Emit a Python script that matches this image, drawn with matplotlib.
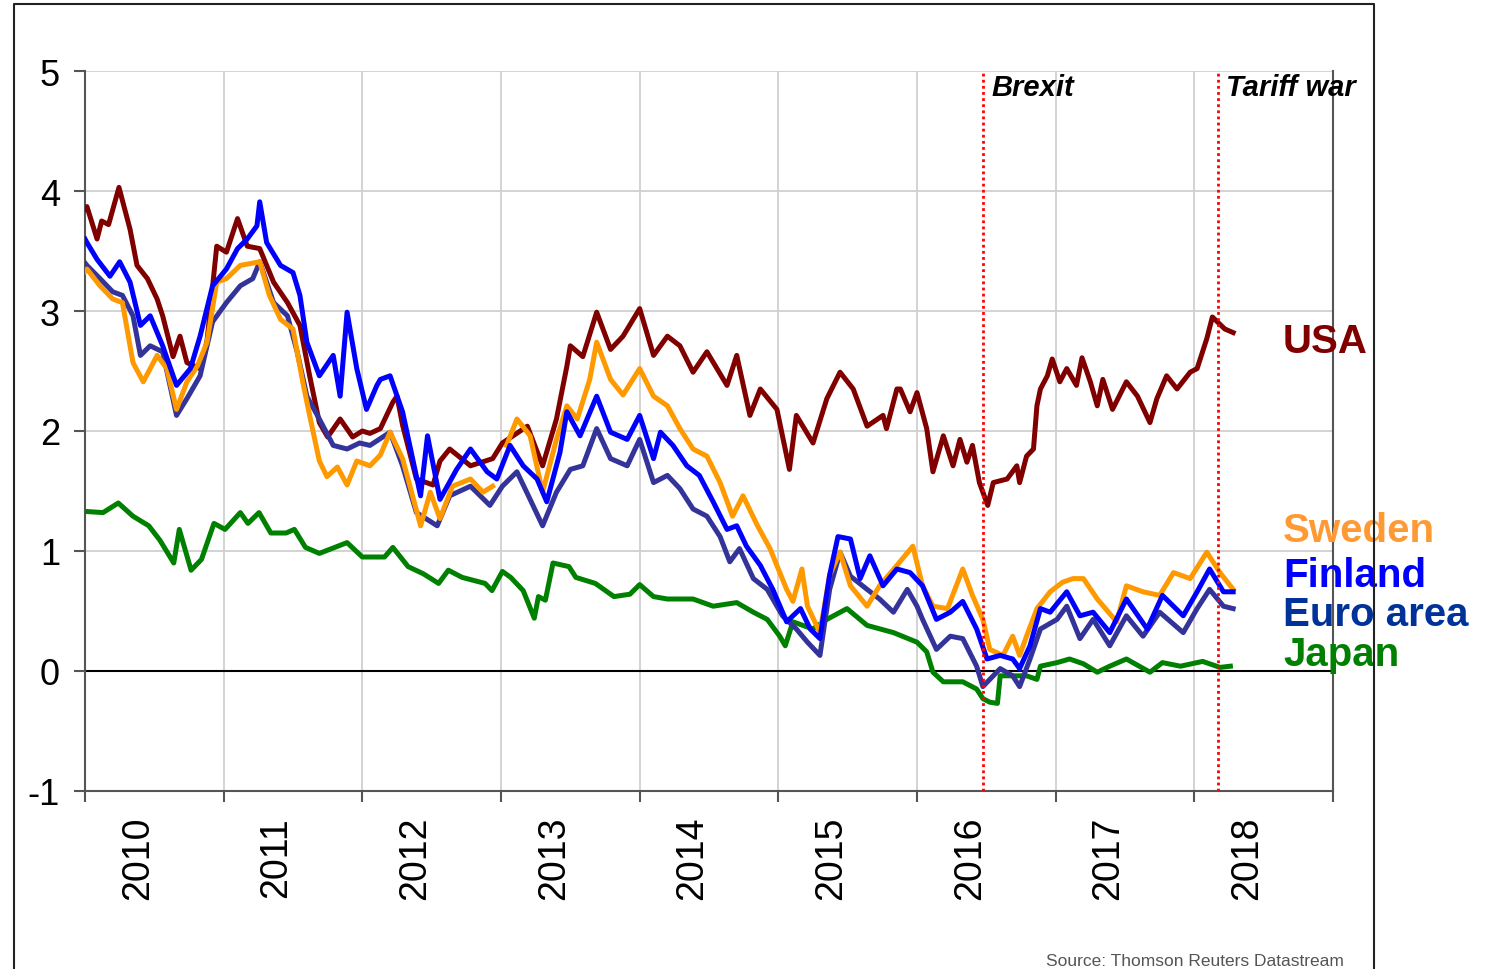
import numpy as np
import matplotlib
matplotlib.use("Agg")
import matplotlib.pyplot as plt
from matplotlib.lines import Line2D

plt.rcParams['font.family'] = ['Liberation Sans', 'DejaVu Sans']
plt.rcParams['axes.unicode_minus'] = False

# 10y government bond yields, %, x in years since start of 2010
usa_t = [0.0, 0.014, 0.087, 0.12, 0.17, 0.245, 0.325, 0.375, 0.45, 0.52, 0.56, 0.635, 0.685, 0.735,
         0.83, 0.88, 0.95, 1.02, 1.10, 1.17, 1.26, 1.36, 1.46, 1.55, 1.62, 1.69, 1.75, 1.84, 1.93,
         2.0, 2.055, 2.13, 2.22, 2.25, 2.29, 2.39, 2.51, 2.56, 2.63, 2.78, 2.94, 3.01, 3.19, 3.30,
         3.40, 3.475, 3.50, 3.59, 3.69, 3.79, 3.88, 4.0, 4.10, 4.20, 4.29, 4.385, 4.485, 4.63, 4.70,
         4.795, 4.87, 4.99, 5.08, 5.13, 5.25, 5.35, 5.445, 5.54, 5.64, 5.755, 5.78, 5.855, 5.88,
         5.95, 6.0, 6.07, 6.115, 6.19, 6.26, 6.31, 6.36, 6.40, 6.45, 6.51, 6.55, 6.65, 6.72, 6.74,
         6.79, 6.84, 6.865, 6.89, 6.94, 6.975, 7.03, 7.08, 7.15, 7.19, 7.25, 7.30, 7.34, 7.41, 7.51,
         7.59, 7.68, 7.73, 7.80, 7.875, 7.97, 8.02, 8.09, 8.13, 8.22, 8.28]
usa_v = [3.85, 3.87, 3.6, 3.75, 3.72, 4.03, 3.68, 3.38, 3.27, 3.1, 2.96, 2.62, 2.79, 2.57,
         2.52, 2.75, 3.54, 3.49, 3.77, 3.54, 3.52, 3.24, 3.07, 2.88, 2.46, 2.07, 1.95, 2.1, 1.95,
         2.0, 1.98, 2.02, 2.24, 2.29, 2.05, 1.6, 1.55, 1.75, 1.85, 1.71, 1.77, 1.9, 2.04, 1.71,
         2.1, 2.54, 2.71, 2.62, 2.99, 2.68, 2.79, 3.02, 2.63, 2.79, 2.71, 2.49, 2.66, 2.38, 2.63,
         2.13, 2.35, 2.18, 1.68, 2.13, 1.9, 2.27, 2.49, 2.35, 2.04, 2.13, 2.02, 2.35, 2.35,
         2.16, 2.32, 2.02, 1.66, 1.96, 1.71, 1.93, 1.74, 1.88, 1.57, 1.38, 1.57, 1.6, 1.71, 1.57,
         1.79, 1.85, 2.21, 2.35, 2.46, 2.6, 2.41, 2.52, 2.38, 2.61, 2.41, 2.21, 2.43, 2.18, 2.41,
         2.29, 2.07, 2.27, 2.46, 2.35, 2.49, 2.52, 2.77, 2.95, 2.85, 2.82]

swe_t = [0.0, 0.014, 0.108, 0.20, 0.27, 0.346, 0.42, 0.52, 0.59, 0.66, 0.735, 0.81, 0.88, 0.95,
         1.02, 1.12, 1.26, 1.33, 1.41, 1.50, 1.57, 1.62, 1.69, 1.745, 1.82, 1.89, 1.96, 2.055, 2.13,
         2.20, 2.29, 2.42, 2.49, 2.56, 2.65, 2.78, 2.87, 2.94, 2.99, 3.04, 3.115, 3.21, 3.30, 3.40,
         3.475, 3.55, 3.64, 3.69, 3.79, 3.88, 4.0, 4.10, 4.20, 4.29, 4.385, 4.485, 4.58, 4.67,
         4.745, 4.85, 4.94, 5.06, 5.105, 5.17, 5.21, 5.30, 5.37, 5.445, 5.52, 5.64, 5.73, 5.855,
         5.97, 6.04, 6.115, 6.22, 6.33, 6.40, 6.475, 6.525, 6.62, 6.69, 6.74, 6.79, 6.865, 6.96,
         7.05, 7.125, 7.20, 7.30, 7.44, 7.51, 7.63, 7.75, 7.85, 7.97, 8.09, 8.185, 8.28]
swe_v = [3.33, 3.35, 3.21, 3.1, 3.07, 2.57, 2.41, 2.63, 2.52, 2.18, 2.41, 2.54, 2.74, 3.24,
         3.27, 3.38, 3.41, 3.13, 2.93, 2.85, 2.41, 2.13, 1.75, 1.62, 1.7, 1.55, 1.75, 1.71, 1.8,
         1.99, 1.77, 1.21, 1.49, 1.27, 1.54, 1.6, 1.49, 1.54, np.nan, 1.88, 2.1, 1.96, 1.49, 1.93,
         2.21, 2.1, 2.43, 2.74, 2.43, 2.3, 2.52, 2.29, 2.21, 2.02, 1.85, 1.79, 1.57, 1.29,
         1.46, 1.21, 1.02, 0.68, 0.58, 0.85, 0.54, 0.32, 0.8, 0.99, 0.71, 0.54, 0.71, 0.88,
         1.04, 0.71, 0.54, 0.52, 0.85, 0.63, 0.43, 0.18, 0.13, 0.29, 0.13, 0.29, 0.52, 0.66,
         0.74, 0.77, 0.77, 0.6, 0.41, 0.71, 0.66, 0.63, 0.82, 0.77, 0.99, 0.82, 0.68]

fin_t = [0.0, 0.014, 0.087, 0.18, 0.25, 0.325, 0.40, 0.47, 0.56, 0.66, 0.76, 0.83, 0.92, 1.02,
         1.10, 1.17, 1.24, 1.26, 1.31, 1.41, 1.50, 1.55, 1.60, 1.69, 1.79, 1.84, 1.89, 1.96, 2.03,
         2.105, 2.13, 2.20, 2.29, 2.42, 2.47, 2.56, 2.68, 2.78, 2.90, 2.97, 3.065, 3.16, 3.26, 3.33,
         3.425, 3.475, 3.57, 3.69, 3.79, 3.91, 4.0, 4.10, 4.15, 4.24, 4.34, 4.43, 4.53, 4.63, 4.70,
         4.77, 4.87, 4.96, 5.06, 5.16, 5.23, 5.30, 5.37, 5.43, 5.52, 5.59, 5.66, 5.755, 5.855,
         5.95, 6.04, 6.14, 6.24, 6.33, 6.43, 6.505, 6.60, 6.69, 6.74, 6.815, 6.89, 6.96, 7.08,
         7.175, 7.27, 7.39, 7.51, 7.66, 7.77, 7.92, 8.02, 8.11, 8.21, 8.28]
fin_v = [3.6, 3.57, 3.43, 3.29, 3.41, 3.24, 2.88, 2.96, 2.71, 2.38, 2.52, 2.79, 3.21, 3.35,
         3.52, 3.6, 3.71, 3.91, 3.57, 3.38, 3.32, 3.13, 2.74, 2.46, 2.63, 2.29, 2.99, 2.52, 2.18,
         2.38, 2.43, 2.46, 2.16, 1.46, 1.96, 1.43, 1.68, 1.85, 1.66, 1.6, 1.88, 1.71, 1.6, 1.41,
         1.82, 2.16, 1.96, 2.29, 1.99, 1.93, 2.13, 1.77, 1.99, 1.88, 1.71, 1.63, 1.41, 1.18, 1.21,
         1.04, 0.88, 0.68, 0.41, 0.52, 0.35, 0.27, 0.8, 1.12, 1.1, 0.77, 0.96, 0.71, 0.85,
         0.82, 0.71, 0.43, 0.49, 0.58, 0.35, 0.1, 0.13, 0.1, 0.02, 0.21, 0.52, 0.49, 0.66,
         0.46, 0.49, 0.32, 0.6, 0.35, 0.63, 0.46, 0.66, 0.85, 0.66, 0.66]

eur_t = [0.0, 0.014, 0.108, 0.20, 0.27, 0.346, 0.40, 0.47, 0.56, 0.66, 0.735, 0.83, 0.92, 1.02,
         1.12, 1.21, 1.26, 1.36, 1.46, 1.53, 1.60, 1.69, 1.79, 1.89, 1.98, 2.055, 2.20, 2.29, 2.39,
         2.54, 2.63, 2.78, 2.92, 3.01, 3.115, 3.21, 3.30, 3.40, 3.50, 3.59, 3.69, 3.79, 3.91, 4.0,
         4.10, 4.20, 4.29, 4.385, 4.485, 4.58, 4.65, 4.72, 4.82, 4.92, 5.03, 5.13, 5.21, 5.30,
         5.37, 5.445, 5.52, 5.64, 5.73, 5.83, 5.93, 6.0, 6.04, 6.14, 6.24, 6.33, 6.43, 6.475,
         6.525, 6.60, 6.69, 6.74, 6.815, 6.89, 7.01, 7.08, 7.175, 7.27, 7.39, 7.51, 7.63, 7.75,
         7.92, 8.02, 8.11, 8.21, 8.28]
eur_v = [3.4, 3.38, 3.27, 3.16, 3.13, 2.96, 2.63, 2.71, 2.66, 2.13, 2.27, 2.46, 2.91, 3.07,
         3.21, 3.27, 3.41, 3.07, 2.96, 2.66, 2.29, 2.1, 1.88, 1.85, 1.9, 1.88, 1.99, 1.71, 1.32,
         1.21, 1.46, 1.54, 1.38, 1.54, 1.66, 1.43, 1.21, 1.49, 1.68, 1.71, 2.02, 1.77, 1.71, 1.93,
         1.57, 1.63, 1.52, 1.35, 1.29, 1.12, 0.91, 1.02, 0.77, 0.68, 0.46, 0.35, 0.24, 0.13,
         0.68, 0.99, 0.79, 0.68, 0.6, 0.49, 0.68, 0.54, 0.43, 0.18, 0.29, 0.27, 0.04, -0.13,
         -0.07, 0.02, -0.04, -0.13, 0.1, 0.35, 0.43, 0.54, 0.27, 0.43, 0.21, 0.46, 0.29, 0.49,
         0.32, 0.52, 0.68, 0.54, 0.52]

jpn_t = [0.0, 0.13, 0.24, 0.346, 0.46, 0.54, 0.64, 0.68, 0.765, 0.84, 0.93, 1.01, 1.12, 1.175,
         1.255, 1.34, 1.45, 1.51, 1.59, 1.69, 1.89, 2.0, 2.16, 2.22, 2.33, 2.44, 2.55, 2.62, 2.72,
         2.885, 2.935, 3.01, 3.07, 3.16, 3.24, 3.27, 3.32, 3.375, 3.49, 3.54, 3.68, 3.815, 3.93,
         4.0, 4.10, 4.20, 4.385, 4.53, 4.70, 4.82, 4.92, 5.01, 5.05, 5.105, 5.25, 5.35, 5.495,
         5.64, 5.83, 6.0, 6.07, 6.115, 6.19, 6.33, 6.43, 6.475, 6.525, 6.58, 6.60, 6.69, 6.79,
         6.865, 6.89, 7.01, 7.10, 7.20, 7.30, 7.39, 7.51, 7.68, 7.77, 7.90, 8.06, 8.185, 8.26]
jpn_v = [1.33, 1.32, 1.4, 1.29, 1.21, 1.09, 0.9, 1.18, 0.84, 0.93, 1.23, 1.18, 1.32, 1.23,
         1.32, 1.15, 1.15, 1.18, 1.03, 0.98, 1.07, 0.95, 0.95, 1.03, 0.87, 0.81, 0.73, 0.84, 0.78,
         0.73, 0.67, 0.83, 0.78, 0.67, 0.44, 0.62, 0.59, 0.9, 0.87, 0.78, 0.73, 0.62, 0.64,
         0.72, 0.62, 0.6, 0.6, 0.54, 0.57, 0.49, 0.43, 0.29, 0.21, 0.41, 0.35, 0.43, 0.52,
         0.38, 0.32, 0.24, 0.16, -0.01, -0.09, -0.09, -0.15, -0.23, -0.26, -0.27, -0.04, -0.04, -0.04,
         -0.07, 0.04, 0.07, 0.1, 0.06, -0.01, 0.04, 0.1, -0.01, 0.07, 0.04, 0.08, 0.03, 0.04]

t0 = 2010
events = [2016.475, 2018.17]
event_labels = ['Brexit', 'Tariff war']
years = list(range(2010, 2019))

series = [  # (label, t, v, line colour, label colour, label baseline)
    ('Japan', jpn_t, jpn_v, '#008000', '#008000', 0.05),
    ('USA', usa_t, usa_v, '#800000', '#800000', 2.66),
    ('Euro area', eur_t, eur_v, '#333399', '#003399', 0.38),
    ('Sweden', swe_t, swe_v, '#FF9900', '#FF9933', 1.08),
    ('Finland', fin_t, fin_v, '#0000FF', '#0000FF', 0.71),
]

fig = plt.figure(figsize=(14.85, 9.7), dpi=100)
ax = fig.add_axes([85/1485, 1-792/970, (1333-85)/1485, (792-72)/970])

for name, t, v, col, lcol, yb in series:
    ax.plot(t0 + np.array(t), v, color=col, lw=3.6, solid_joinstyle='round', zorder=3)
    ax.text(2018.64, yb, name, color=lcol, fontsize=29, fontweight='bold',
            va='baseline', ha='left', clip_on=False)

ax.axhline(0, color='black', lw=1.5, zorder=2)
for ev, lab in zip(events, event_labels):
    ax.axvline(ev, color='red', ls=(0, (1, 1.2)), lw=2, zorder=4)
    ax.text(ev + 0.06, 4.8, lab, fontsize=21, fontweight='bold', fontstyle='italic',
            va='baseline', ha='left', clip_on=False)

ax.set_xlim(2010, 2019)
ax.set_ylim(-1, 5)
ax.set_yticks(range(-1, 6))
ax.set_xticks(range(2010, 2020))
ax.set_xticklabels([])
ax.set_xticks([y + 0.38 for y in years], minor=True)
ax.set_xticklabels([str(y) for y in years], minor=True, rotation=90)
ax.tick_params(axis='x', which='minor', length=0, pad=18, labelsize=27)
ax.tick_params(axis='x', which='major', length=8, width=1.5, color='#555555', direction='out')
ax.tick_params(axis='y', length=8, width=1.5, color='#555555', labelsize=26, pad=10)
ax.grid(True, which='major', color='#d0d0d0', lw=1.3, zorder=0)
ax.set_axisbelow(True)
ax.spines['top'].set_visible(False)
for s in ['left', 'bottom', 'right']:
    ax.spines[s].set_color('#555555')
    ax.spines[s].set_linewidth(1.5)

# outer frame (bottom edge lies outside the picture)
fx0, fx1, fy1 = 14/1485, 1374/1485, 1-5/970
fig.add_artist(Line2D([fx0, fx0, fx1, fx1], [0, fy1, fy1, 0], color='#222222', lw=1.5))

fig.text(1344/1485, 8/970, 'Source: Thomson Reuters Datastream', fontsize=12.5,
         color='#555555', ha='right', va='center')

fig.savefig('out.png', dpi=100)
